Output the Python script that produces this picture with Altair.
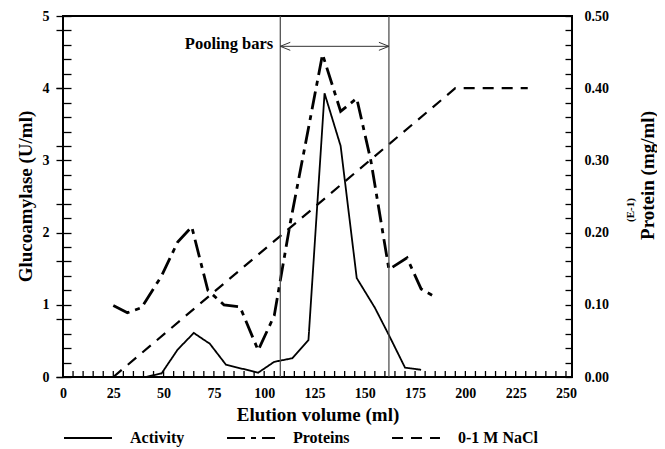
import altair as alt
import pandas as pd

# ---------------- data ----------------
series = ["Activity", "Proteins", "0-1 M NaCl"]

act_x = [41, 49, 57, 65, 73, 81, 97, 105, 114, 122, 130, 138, 146, 155, 162, 170, 178]
act_y = [0.0, 0.05, 0.38, 0.61, 0.46, 0.17, 0.06, 0.21, 0.26, 0.51, 3.93, 3.20, 1.37, 0.96, 0.58, 0.13, 0.10]

prot_x = [25, 32, 39, 49, 57, 64, 72, 80, 88, 97, 105, 113, 121, 129, 138, 146, 153, 162, 171, 178, 186]
prot_y = [0.099, 0.089, 0.096, 0.140, 0.187, 0.208, 0.120, 0.100, 0.097, 0.037, 0.085,
          0.214, 0.330, 0.447, 0.368, 0.386, 0.300, 0.149, 0.165, 0.122, 0.109]

nacl_x = [25, 195, 231]
nacl_y = [0.0, 4.0, 4.0]

pool_x = [108, 162]
pool_label = "Pooling bars"
arrow_y = 4.58

x_ticks_major = list(range(0, 251, 25))
x_ticks_minor = list(range(0, 251, 5))
left_labels = [0, 1, 2, 3, 4, 5]
left_ticks = [round(i * 0.2, 1) for i in range(26)]
right_labels = [round(i * 0.1, 1) for i in range(6)]
right_ticks = [round(i * 0.02, 2) for i in range(26)]

# ---------------- layout ----------------
W, H = 509, 361
FONT = "Liberation Serif"

ys_left = alt.Scale(domain=[0, 5], nice=False, zero=False)
ys_right = alt.Scale(domain=[0, 0.5], nice=False, zero=False)


def xs():
    return alt.Scale(domain=[0, 253], nice=False, zero=False)


dash_scale = alt.Scale(domain=series, range=[[1, 0], [18, 6, 5, 6], [11, 8]])


def legend():
    return alt.Legend(orient="none", legendX=0, legendY=397, direction="horizontal",
                      columns=3, title=None, symbolType="stroke", symbolSize=2300,
                      symbolStrokeWidth=2, symbolStrokeColor="black",
                      labelFont=FONT, labelFontSize=16, labelFontWeight="bold",
                      labelColor="black", labelOffset=17, columnPadding=38, padding=0)


act_df = pd.DataFrame({"x": act_x, "y": act_y, "s": series[0]})
prot_df = pd.DataFrame({"x": prot_x, "y": prot_y, "s": series[1]})
nacl_df = pd.DataFrame({"x": nacl_x, "y": nacl_y, "s": series[2]})
pool_df = pd.DataFrame({"x": pool_x, "y0": [0.0, 0.0], "y1": [0.5, 0.5]})
arrow_df = pd.DataFrame({"x": [pool_x[0]], "x2": [pool_x[1]], "y": [arrow_y], "t": [pool_label]})
arrow_l = pd.DataFrame({"x": [pool_x[0]], "y": [arrow_y]})
arrow_r = pd.DataFrame({"x": [pool_x[1]], "y": [arrow_y]})
xtick_df = pd.DataFrame({"x": x_ticks_minor, "y": [0.0] * len(x_ticks_minor)})
e1_df = pd.DataFrame({"t": ["(E-1)"]})

# ---- layer 1: activity (left axis labels, bottom axis labels) ----
act_line = alt.Chart(act_df).mark_line(strokeWidth=1.8, color="black").encode(
    x=alt.X("x:Q", scale=xs(), axis=alt.Axis(
        values=x_ticks_major, ticks=False, domain=False, labelPadding=9, format="d",
        labelOverlap=False, labelFlush=False,
        title="Elution volume (ml)", titleFontSize=19, titleY=37, titleBaseline="middle")),
    y=alt.Y("y:Q", scale=ys_left, axis=alt.Axis(
        values=left_labels, format="d", tickSize=7, domain=False, labelPadding=7,
        labelOverlap=False, labelFlush=False,
        title="Glucoamylase (U/ml)", titleFontSize=19, titleAngle=270, titleX=-38, titleY=180,
        titleAlign="center", titleBaseline="middle")),
    strokeDash=alt.StrokeDash("s:N", scale=dash_scale, legend=legend()))

# ---- layer 2: proteins (right axis labels) ----
prot_line = alt.Chart(prot_df).mark_line(strokeWidth=2.8, color="black").encode(
    x=alt.X("x:Q", scale=xs(), axis=None),
    y=alt.Y("y:Q", scale=ys_right, axis=alt.Axis(
        orient="right", values=right_labels, format=".2f", ticks=False, domain=False,
        labelPadding=12, labelOverlap=False, labelFlush=False,
        title="Protein (mg/ml)", titleFontSize=19, titleAngle=270,
        titleX=75, titleY=159, titleAlign="center", titleBaseline="middle")),
    strokeDash=alt.StrokeDash("s:N", scale=dash_scale, legend=legend()))

# ---- layer 3: NaCl (inward ticks on left edge) ----
nacl_line = alt.Chart(nacl_df).mark_line(strokeWidth=2.2, color="black").encode(
    x=alt.X("x:Q", scale=xs(), axis=None),
    y=alt.Y("y:Q", scale=ys_left, axis=alt.Axis(
        orient="right", offset=-W, values=left_ticks, tickSize=8, labels=False,
        domain=False, title=None)),
    strokeDash=alt.StrokeDash("s:N", scale=dash_scale, legend=legend()))

# ---- layer 4: pooling bars (inward ticks on right edge) ----
pool_rules = alt.Chart(pool_df).mark_rule(color="#444", strokeWidth=1.2).encode(
    x=alt.X("x:Q", scale=xs(), axis=None),
    y=alt.Y("y0:Q", scale=ys_right, axis=alt.Axis(
        orient="left", offset=-W, values=right_ticks, tickSize=7, labels=False,
        domain=False, title=None)),
    y2="y1:Q")
e1_text = alt.Chart(e1_df).mark_text(angle=270, font=FONT, fontSize=11, fontWeight="bold",
                                     color="black", baseline="middle", align="center").encode(
    text="t:N", x=alt.value(W + 59), y=alt.value(194))
layer4 = alt.layer(pool_rules, e1_text)

# ---- layer 5: arrow + label, inward x ticks (outward minor ticks on left edge) ----
arrow_rule = alt.Chart(arrow_df).mark_rule(color="#333", strokeWidth=1).encode(
    x=alt.X("x:Q", scale=xs(), axis=None),
    x2="x2:Q",
    y=alt.Y("y:Q", scale=ys_left, axis=alt.Axis(
        orient="left", values=left_ticks, tickSize=7, labels=False, domain=False, title=None)))
head_l = alt.Chart(arrow_l).mark_point(shape="M2.5,-1L0,0L2.5,1", size=64, filled=False,
                                       color="#333", strokeWidth=1, opacity=1).encode(x="x:Q", y="y:Q")
head_r = alt.Chart(arrow_r).mark_point(shape="M-2.5,-1L0,0L-2.5,1", size=64, filled=False,
                                       color="#333", strokeWidth=1, opacity=1).encode(x="x:Q", y="y:Q")
pool_text = alt.Chart(arrow_df).mark_text(align="right", baseline="middle", dx=-7, dy=-2,
                                          font=FONT, fontSize=16.5, fontWeight="bold",
                                          color="black").encode(x="x:Q", y="y:Q", text="t:N")
x_minor = alt.Chart(xtick_df).mark_tick(orient="vertical", size=6, thickness=1.3,
                                        color="black", opacity=1, yOffset=-3).encode(
    x="x:Q", y="y:Q")
layer5 = alt.layer(arrow_rule, head_l, head_r, pool_text, x_minor)

chart = alt.layer(act_line, prot_line, nacl_line, layer4, layer5).resolve_scale(
    x="independent", y="independent").resolve_axis(x="independent", y="independent").properties(
    width=W, height=H,
    autosize=alt.AutoSizeParams(type="none"),
    padding={"left": 55, "top": 8, "right": 85, "bottom": 72},
).configure_view(stroke="black", strokeWidth=2).configure_axis(
    grid=False, labelFont=FONT, labelFontSize=14, labelFontWeight="bold", labelColor="black",
    titleFont=FONT, titleFontWeight="bold", titleColor="black", tickColor="black",
    tickWidth=1.3)

chart.save("out.html", embed_options={"renderer": "svg", "actions": False})
